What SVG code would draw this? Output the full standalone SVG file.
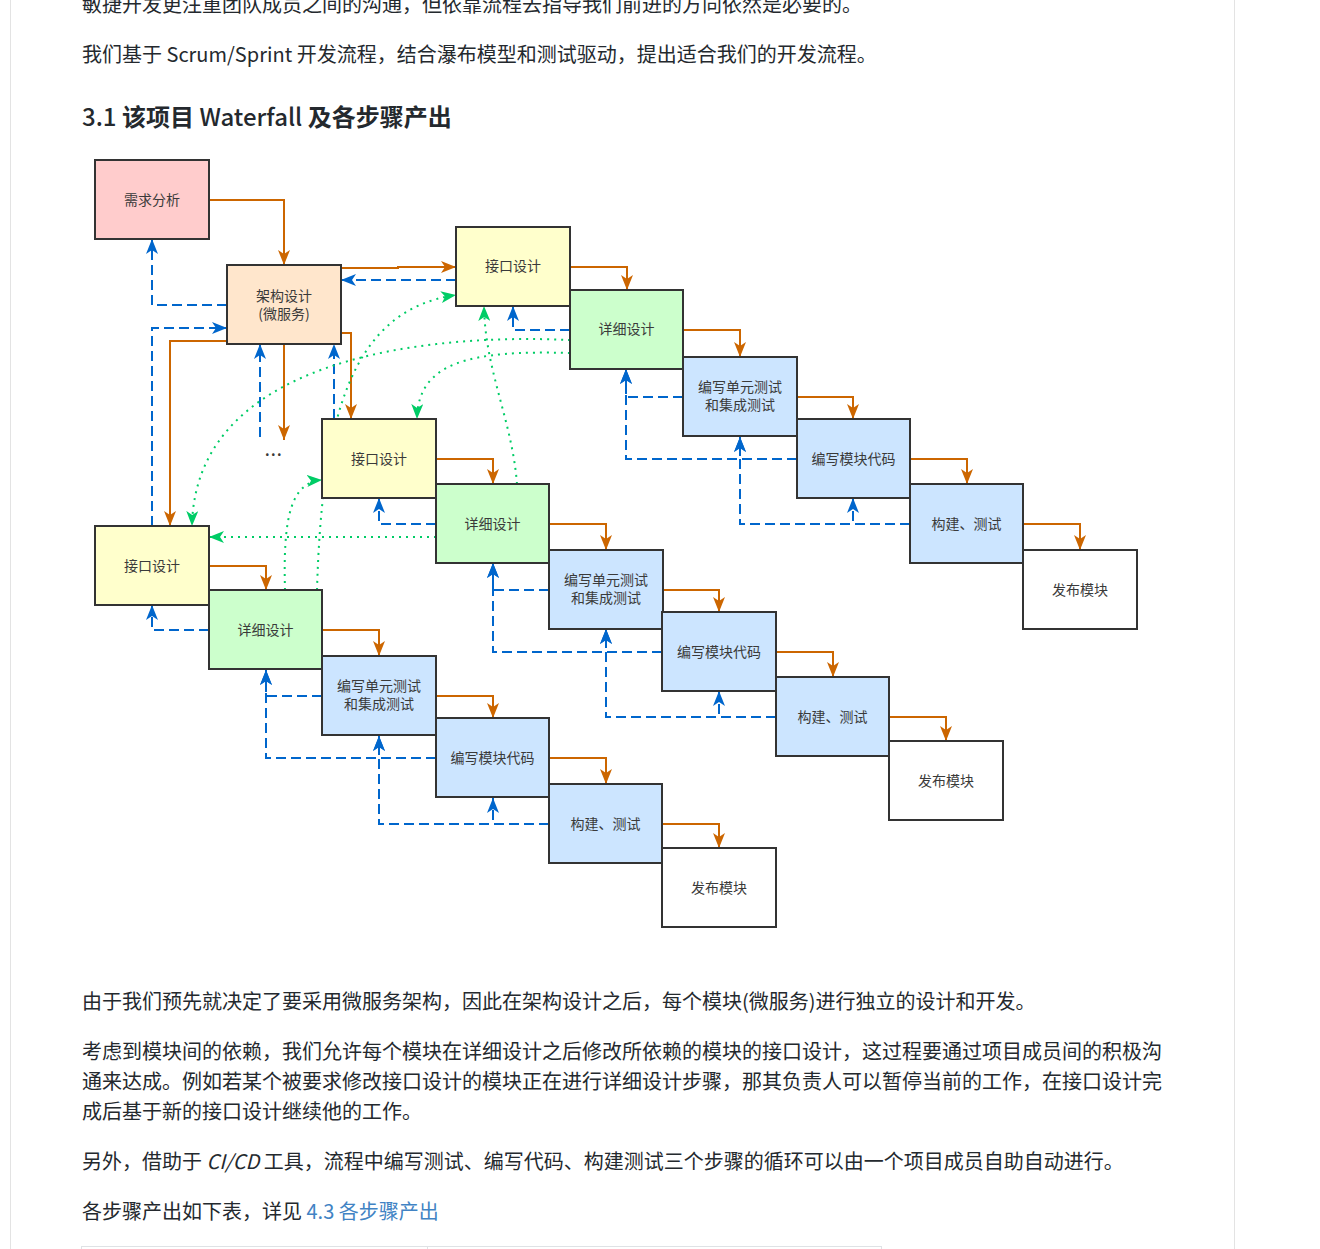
<svg xmlns="http://www.w3.org/2000/svg" width="1320" height="1249" viewBox="0 0 1320 1249">
<style>
.n rect{stroke:#333;stroke-width:2}
.req{fill:#ffcccc}.arch{fill:#ffe6cc}.if{fill:#ffffcc}.dt{fill:#ccffcc}.bl{fill:#cce5ff}.rl{fill:#ffffff}
.t{font-family:"Noto Sans CJK SC","Noto Sans",sans-serif;font-size:14px;fill:#3a3a3a;text-anchor:middle}
.o{fill:none;stroke:#cc6600;stroke-width:2;marker-end:url(#mo)}
.b{fill:none;stroke:#0066cc;stroke-width:2;stroke-dasharray:10 5;marker-end:url(#mb)}
.g{fill:none;stroke:#00cc66;stroke-width:2;stroke-dasharray:2 5;marker-end:url(#mg)}
.p{font-family:"Noto Sans CJK SC","Noto Sans",sans-serif;font-size:20px;fill:#24292e}
.h{font-family:"Noto Sans CJK SC","Noto Sans",sans-serif;font-size:24px;font-weight:bold;fill:#24292e}
.lw{font-weight:500}
</style>
<defs>
<marker id="mo" viewBox="0 0 15 12" refX="15" refY="6" markerWidth="15" markerHeight="12" orient="auto" markerUnits="userSpaceOnUse"><path d="M0,0 L15,6 L0,12 L4,6 z" fill="#cc6600"/></marker>
<marker id="mb" viewBox="0 0 15 12" refX="15" refY="6" markerWidth="15" markerHeight="12" orient="auto" markerUnits="userSpaceOnUse"><path d="M0,0 L15,6 L0,12 L4,6 z" fill="#0066cc"/></marker>
<marker id="mg" viewBox="0 0 15 12" refX="15" refY="6" markerWidth="15" markerHeight="12" orient="auto" markerUnits="userSpaceOnUse"><path d="M0,0 L15,6 L0,12 L4,6 z" fill="#00cc66"/></marker>
</defs>
<rect width="1320" height="1249" fill="#ffffff"/>
<line x1="10.5" y1="0" x2="10.5" y2="1249" stroke="#e3e3e3"/>
<line x1="1234.5" y1="0" x2="1234.5" y2="1249" stroke="#e3e3e3"/>

<g id="page-text">
<text class="p" x="82" y="12">敏捷开发更注重团队成员之间的沟通，但依靠流程去指导我们前进的方向依然是必要的。</text>
<text class="p" x="82" y="62">我们基于 Scrum/Sprint 开发流程，结合瀑布模型和测试驱动，提出适合我们的开发流程。</text>
<text class="h" x="82" y="126"><tspan class="lw">3.1</tspan> 该项目 <tspan class="lw">Waterfall</tspan> 及各步骤产出</text>
<text class="p" x="82" y="1009">由于我们预先就决定了要采用微服务架构，因此在架构设计之后，每个模块(微服务)进行独立的设计和开发。</text>
<text class="p" x="82" y="1059">考虑到模块间的依赖，我们允许每个模块在详细设计之后修改所依赖的模块的接口设计，这过程要通过项目成员间的积极沟</text>
<text class="p" x="82" y="1089">通来达成。例如若某个被要求修改接口设计的模块正在进行详细设计步骤，那其负责人可以暂停当前的工作，在接口设计完</text>
<text class="p" x="82" y="1119">成后基于新的接口设计继续他的工作。</text>
<text class="p" x="82" y="1169">另外，借助于 <tspan font-style="italic">CI/CD</tspan> 工具，流程中编写测试、编写代码、构建测试三个步骤的循环可以由一个项目成员自助自动进行。</text>
<text class="p" x="82" y="1219">各步骤产出如下表，详见 <tspan fill="#4183c4">4.3 各步骤产出</tspan></text>
<rect x="81.5" y="1246.5" width="800" height="10" fill="none" stroke="#dfe2e5"/>
<line x1="427.5" y1="1246.5" x2="427.5" y2="1249" stroke="#dfe2e5"/>
</g>

<g id="connectors">
<path class="o" d="M209,200 H284 V265"/>
<path class="o" d="M341,268 H398 V267 H456"/>
<path class="o" d="M341,333 H351 V419"/>
<path class="o" d="M284,344 V440"/>
<path class="o" d="M227,341 H170 V526"/>
<path class="o" d="M570,267 H627 V290"/>
<path class="o" d="M683,330 H740 V357"/>
<path class="o" d="M797,397 H853 V419"/>
<path class="o" d="M910,459 H967 V484"/>
<path class="o" d="M1023,524 H1080 V550"/>
<path class="o" d="M436,459 H493 V484"/>
<path class="o" d="M549,524 H606 V550"/>
<path class="o" d="M663,590 H719 V612"/>
<path class="o" d="M776,652 H833 V677"/>
<path class="o" d="M889,717 H946 V741"/>
<path class="o" d="M209,566 H266 V590"/>
<path class="o" d="M322,630 H379 V656"/>
<path class="o" d="M436,696 H493 V718"/>
<path class="o" d="M549,758 H606 V784"/>
<path class="o" d="M662,824 H719 V848"/>
<path class="b" d="M227,305 H152 V239"/>
<path class="b" d="M456,280 H341"/>
<path class="b" d="M152,526 V328 H227"/>
<path class="b" d="M334,419 V344"/>
<path class="b" d="M260,437 V344"/>
<path class="b" d="M570,330 H513 V306"/>
<path class="b" d="M683,397 H626 V369"/>
<path class="b" d="M797,459 H626 V369"/>
<path class="b" d="M797,459 H740 V437"/>
<path class="b" d="M910,524 H740 V437"/>
<path class="b" d="M910,524 H853 V498"/>
<path class="b" d="M436,524 H379 V498"/>
<path class="b" d="M549,590 H493 V563"/>
<path class="b" d="M662,652 H493 V563"/>
<path class="b" d="M662,652 H606 V629"/>
<path class="b" d="M776,717 H606 V629"/>
<path class="b" d="M776,717 H719 V691"/>
<path class="b" d="M209,630 H152 V605"/>
<path class="b" d="M322,696 H266 V670"/>
<path class="b" d="M436,758 H266 V670"/>
<path class="b" d="M436,758 H379 V736"/>
<path class="b" d="M549,824 H379 V736"/>
<path class="b" d="M549,824 H493 V798"/>
<path class="g" d="M570,340 C420,333 195,360 192,526"/>
<path class="g" d="M570,353 C470,350 418,362 417,419"/>
<path class="g" d="M517,484 C512,420 485,370 484,306"/>
<path class="g" d="M317,590 C322,420 350,310 456,295"/>
<path class="g" d="M285,590 C283,520 290,482 322,480"/>
<path class="g" d="M436,537 H209"/>
</g>

<g id="n-req" class="n"><rect class="req" x="95" y="160" width="114" height="79"/><text class="t" x="152" y="205">需求分析</text></g>
<g id="n-arch" class="n"><rect class="arch" x="227" y="265" width="114" height="79"/><text class="t" x="284" y="301">架构设计</text><text class="t" x="284" y="319">(微服务)</text></g>
<text id="n-more" class="t" x="274" y="456" font-size="16" letter-spacing="1.5" font-weight="bold">...</text>

<g id="n-a-if" class="n"><rect class="if" x="456" y="227" width="114" height="79"/><text class="t" x="513" y="271">接口设计</text></g>
<g id="n-a-dt" class="n"><rect class="dt" x="570" y="290" width="113" height="79"/><text class="t" x="626.5" y="334">详细设计</text></g>
<g id="n-a-ut" class="n"><rect class="bl" x="683" y="357" width="114" height="79"/><text class="t" x="740" y="392">编写单元测试</text><text class="t" x="740" y="410">和集成测试</text></g>
<g id="n-a-cd" class="n"><rect class="bl" x="797" y="419" width="113" height="79"/><text class="t" x="853.5" y="464">编写模块代码</text></g>
<g id="n-a-bd" class="n"><rect class="bl" x="910" y="484" width="113" height="79"/><text class="t" x="966.5" y="529">构建、测试</text></g>
<g id="n-a-rl" class="n"><rect class="rl" x="1023" y="550" width="114" height="79"/><text class="t" x="1080" y="595">发布模块</text></g>

<g id="n-b-if" class="n"><rect class="if" x="322" y="419" width="114" height="79"/><text class="t" x="379" y="464">接口设计</text></g>
<g id="n-b-dt" class="n"><rect class="dt" x="436" y="484" width="113" height="79"/><text class="t" x="492.5" y="529">详细设计</text></g>
<g id="n-b-ut" class="n"><rect class="bl" x="549" y="550" width="114" height="79"/><text class="t" x="606" y="585">编写单元测试</text><text class="t" x="606" y="603">和集成测试</text></g>
<g id="n-b-cd" class="n"><rect class="bl" x="662" y="612" width="114" height="79"/><text class="t" x="719" y="657">编写模块代码</text></g>
<g id="n-b-bd" class="n"><rect class="bl" x="776" y="677" width="113" height="79"/><text class="t" x="832.5" y="722">构建、测试</text></g>
<g id="n-b-rl" class="n"><rect class="rl" x="889" y="741" width="114" height="79"/><text class="t" x="946" y="786">发布模块</text></g>

<g id="n-c-if" class="n"><rect class="if" x="95" y="526" width="114" height="79"/><text class="t" x="152" y="571">接口设计</text></g>
<g id="n-c-dt" class="n"><rect class="dt" x="209" y="590" width="113" height="79"/><text class="t" x="265.5" y="635">详细设计</text></g>
<g id="n-c-ut" class="n"><rect class="bl" x="322" y="656" width="114" height="79"/><text class="t" x="379" y="691">编写单元测试</text><text class="t" x="379" y="709">和集成测试</text></g>
<g id="n-c-cd" class="n"><rect class="bl" x="436" y="718" width="113" height="79"/><text class="t" x="492.5" y="763">编写模块代码</text></g>
<g id="n-c-bd" class="n"><rect class="bl" x="549" y="784" width="113" height="79"/><text class="t" x="605.5" y="829">构建、测试</text></g>
<g id="n-c-rl" class="n"><rect class="rl" x="662" y="848" width="114" height="79"/><text class="t" x="719" y="893">发布模块</text></g>
</svg>
